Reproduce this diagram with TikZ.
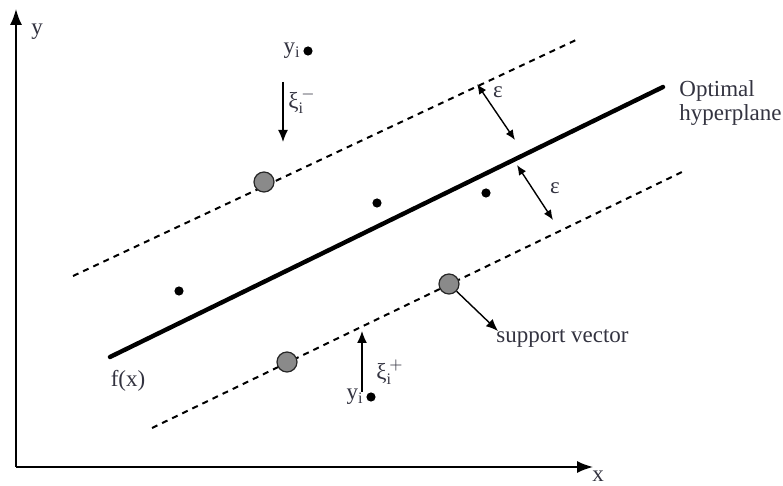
\documentclass[tikz,border=0pt]{standalone}
\usepackage{fontspec}
\setmainfont{Liberation Serif}
\usetikzlibrary{arrows.meta,positioning}
\definecolor{InkGray}{HTML}{333340}
\definecolor{SvGray}{HTML}{8A8A8A}
\tikzset{
  axis/.style={line width=0.8pt,-{Latex[length=8pt,width=6pt]}},
  plane/.style={line width=2.2pt,line cap=round},
  margin/.style={line width=1pt,dash pattern=on 3pt off 2.6pt},
  datapt/.style={circle,fill=black,inner sep=0pt,minimum size=4.6pt},
  supvec/.style={circle,draw=black!85,fill=SvGray,line width=0.6pt,
                 inner sep=0pt,minimum size=10pt},
  lbl/.style={inner sep=1pt,text=InkGray,font=\fontsize{11.5}{12}\selectfont},
  dist/.style={line width=0.7pt,{Latex[length=5pt,width=4.2pt]}-{Latex[length=5pt,width=4.2pt]}},
  slack/.style={line width=0.7pt,-{Latex[length=6pt,width=5pt]}}
}
\begin{document}
\begin{tikzpicture}[x=0.5pt,y=-0.5pt]
  \useasboundingbox (0,0) rectangle (783,486);
  % axes
  \coordinate (O) at (16,467);
  \coordinate (ytip) at (16,9);
  \coordinate (xtip) at (593,467);
  \draw[axis] (O) -- (ytip);
  \draw[axis] (O) -- (xtip);
  \node[lbl] (ylab) at (37,32) {y};
  \node[lbl] (xlab) at (598,476) {x};

  % hyperplane and margins
  \coordinate (hpA) at (110,357);
  \coordinate (hpB) at (663,87);
  \coordinate (upA) at (73,276);
  \coordinate (upB) at (576,40);
  \coordinate (loA) at (152,428);
  \coordinate (loB) at (682,172);
  \draw[plane] (hpA) -- (hpB);
  \draw[margin] (upA) -- (upB);
  \draw[margin] (loA) -- (loB);
  \node[lbl] (fx) at (128,381) {f(x)};
  \node[lbl,anchor=west,align=left] (hplab) at (677,103) {Optimal\\hyperplane};

  % data points
  \node[datapt] (p1) at (179,291) {};
  \node[datapt] (p2) at (377,203) {};
  \node[datapt] (p3) at (486,193) {};
  \node[supvec] (sv1) at (264,182) {};
  \node[supvec] (sv2) at (287,362) {};
  \node[supvec] (sv3) at (449,284) {};

  % epsilon tube width
  \coordinate (e1a) at (477,84);
  \coordinate (e1b) at (515,140);
  \coordinate (e2a) at (517,165);
  \coordinate (e2b) at (553,220);
  \draw[dist] (e1a) -- (e1b);
  \draw[dist] (e2a) -- (e2b);
  \node[lbl] (eps1) at (498,92) {ε};
  \node[lbl] (eps2) at (555,188) {ε};

  % slack above the tube
  \node[lbl,anchor=east,inner sep=0pt] (yup) at (301,51) {y\textsubscript{i}};
  \node[datapt,right=1pt of yup] (yupdot) {};
  \coordinate (xm0) at (283,82);
  \coordinate (xm1) at (283,142);
  \draw[slack] (xm0) -- (xm1);
  \node[lbl] (ximinus) at (302,101) {ξ$^{\,-}_{\mathrm{i}}$};

  % slack below the tube
  \node[lbl,anchor=east,inner sep=0pt] (ylo) at (364,397) {y\textsubscript{i}};
  \node[datapt,right=1pt of ylo] (ylodot) {};
  \coordinate (xp0) at (362,392);
  \coordinate (xp1) at (362,331);
  \draw[slack] (xp0) -- (xp1);
  \node[lbl] (xiplus) at (390,372) {ξ$^{\,+}_{\mathrm{i}}$};

  % support vector label
  \node[lbl,anchor=west] (svlab) at (494,338) {support vector};
  \coordinate (svtip) at (498,331);
  \draw[slack] (sv3) -- (svtip);
\end{tikzpicture}
\end{document}
